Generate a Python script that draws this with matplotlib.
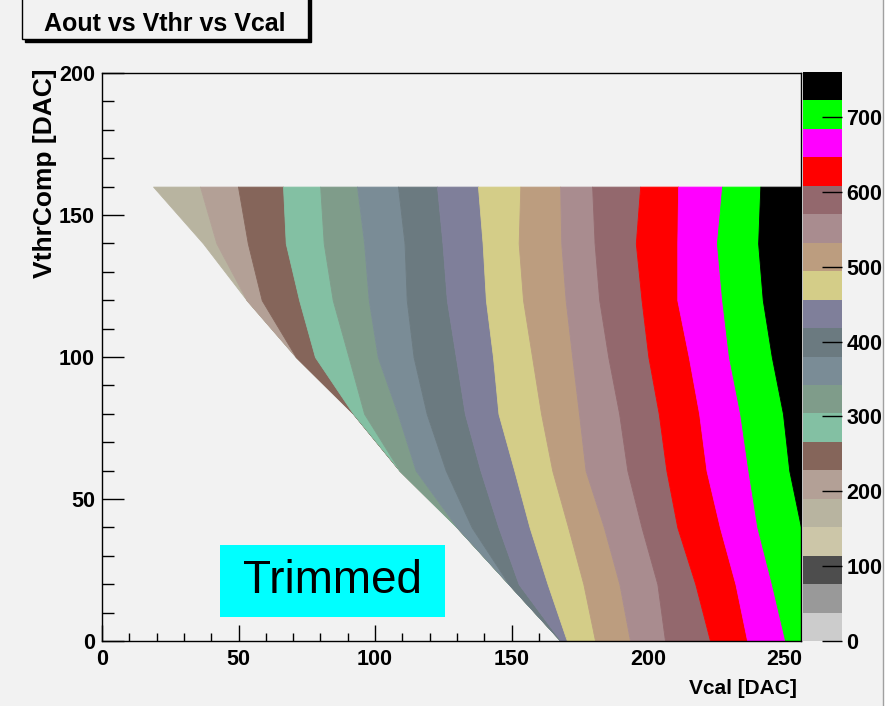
import numpy as np
import matplotlib
matplotlib.use("Agg")
import matplotlib.pyplot as plt
from matplotlib.colors import ListedColormap, BoundaryNorm
from matplotlib.cm import ScalarMappable
from matplotlib.patches import Rectangle
from matplotlib.lines import Line2D
from matplotlib.ticker import MultipleLocator

# ---------------- data ----------------
TITLE = "Aout vs Vthr vs Vcal"
X_LABEL = "Vcal [DAC]"
Y_LABEL = "VthrComp [DAC]"
X_MAX = 256
Y_MAX = 200
Z_MAX = 760
N_LEVELS = 20
CBAR_TICKS = [0, 100, 200, 300, 400, 500, 600, 700]

# 20-colour palette, from lowest to highest Aout level
PALETTE = ["#cccccc", "#999999", "#4d4d4d", "#ccc6a8", "#b8b4a0",
           "#b3a096", "#85655a", "#83c0a3", "#7f9c8a", "#7a8c96",
           "#6b7a80", "#7f7f9a", "#d4cd88", "#bc9d7f", "#a98c8f",
           "#93686d", "#ff0000", "#ff00ff", "#00ff00", "#000000"]

# VthrComp rows at which band boundaries were read
Y_ROWS = [0, 20, 40, 60, 80, 100, 120, 140, 160]
# left edge of the filled region (lowest Vcal with data) at each row
LEFT_EDGE = [168, 149, 130, 109, 92, 71, 53, 37, 18.7]
# Vcal where each Aout level starts at each row (0 = level cut off by the edge,
# 256 = level not reached inside the range)
START_L5 = [0, 0, 0, 0, 0, 0, 53, 41.9, 35.9]
START_L6 = [0, 0, 0, 0, 0, 71, 58.5, 53.4, 49.8]
START_L7 = [0, 0, 0, 0, 91, 78, 72.2, 67.3, 66.3]
START_L8 = [0, 0, 0, 109, 96.0, 90.3, 84.5, 81.2, 79.9]
START_L9 = [0, 0, 129.6, 114.9, 108.3, 101.0, 97.7, 96.0, 93.4]
START_L10 = [0, 148, 135.4, 125.9, 118.9, 114.1, 111.6, 110.8, 108.4]
START_L11 = [168, 152.6, 145.2, 138.6, 132.9, 129.6, 126.3, 124.7, 122.7]
START_L12 = [170.3, 163.2, 156.6, 151.0, 145.2, 143.2, 140.6, 139.4, 137.7]
START_L13 = [180.6, 176.3, 170.7, 164.9, 160.8, 157.5, 154.2, 152.6, 153.2]
START_L14 = [193.4, 189.5, 183.8, 177.1, 174.7, 172.2, 169.8, 168.2, 167.8]
START_L15 = [206.2, 203.4, 197.6, 192.4, 189.4, 185.4, 182.1, 180.4, 179.5]
START_L16 = [222.7, 217.3, 210.7, 206.7, 203.9, 200.1, 197.6, 195.5, 197.1]
START_L17 = [236.3, 232.0, 226.3, 221.4, 218.7, 214.9, 210.7, 210.7, 211.0]
START_L18 = [250.2, 245.3, 240.0, 236.7, 233.7, 229.6, 227.1, 225.2, 227.1]
START_L19 = [256, 256, 256, 251.7, 249.4, 245.3, 242.0, 240.3, 241.1]

BAND_STARTS = {4: LEFT_EDGE, 5: START_L5, 6: START_L6, 7: START_L7,
               8: START_L8, 9: START_L9, 10: START_L10, 11: START_L11,
               12: START_L12, 13: START_L13, 14: START_L14, 15: START_L15,
               16: START_L16, 17: START_L17, 18: START_L18, 19: START_L19,
               20: [X_MAX] * len(Y_ROWS)}

TRIMMED_TEXT = "Trimmed"

# ---------------- figure ----------------
BG = "#f2f2f2"
W, H = 893, 706
plt.rcParams["font.family"] = ["Liberation Sans", "DejaVu Sans"]

fig = plt.figure(figsize=(W / 100, H / 100), dpi=100, facecolor=BG)

def fx(px):
    return px / W

def fy(py):
    return 1 - py / H

ax = fig.add_axes([fx(102), fy(641), (801 - 102) / W, (641 - 73) / H])
ax.set_facecolor(BG)
ax.set_xlim(0, X_MAX)
ax.set_ylim(0, Y_MAX)

edge = np.asarray(LEFT_EDGE, dtype=float)
levels = sorted(BAND_STARTS)
for k in levels[:-1]:
    left = np.maximum(edge, np.asarray(BAND_STARTS[k], dtype=float))
    right = np.maximum(edge, np.asarray(BAND_STARTS[k + 1], dtype=float))
    ax.fill_betweenx(Y_ROWS, left, right, facecolor=PALETTE[k],
                     edgecolor=PALETTE[k], linewidth=0.6, zorder=2)

for s in ax.spines.values():
    s.set_color("black")
    s.set_linewidth(1.0)
    s.set_zorder(5)

TICK_FS = 15.5
ax.xaxis.set_major_locator(MultipleLocator(50))
ax.xaxis.set_minor_locator(MultipleLocator(10))
ax.yaxis.set_major_locator(MultipleLocator(50))
ax.yaxis.set_minor_locator(MultipleLocator(10))
ax.tick_params(axis="x", which="major", direction="in", length=11.5, width=1,
               pad=6, labelsize=TICK_FS)
ax.tick_params(axis="x", which="minor", direction="in", length=6, width=1)
ax.tick_params(axis="y", which="major", direction="in", length=15.5, width=1,
               pad=5, labelsize=TICK_FS)
ax.tick_params(axis="y", which="minor", direction="in", length=8.5, width=1)
for lab in ax.get_xticklabels() + ax.get_yticklabels():
    lab.set_fontweight("bold")

# axis titles
fig.text(fx(45), fy(68), Y_LABEL, rotation=90, ha="center", va="top",
         fontsize=19, fontweight="bold")
fig.text(fx(797), fy(689), X_LABEL, ha="right", va="center",
         fontsize=15, fontweight="bold")

# colour bar
cmap = ListedColormap(PALETTE)
norm = BoundaryNorm(np.linspace(0, Z_MAX, N_LEVELS + 1), N_LEVELS)
cax = fig.add_axes([fx(803), fy(641), 39 / W, (641 - 72) / H])
sm = ScalarMappable(norm=norm, cmap=cmap)
cb = fig.colorbar(sm, cax=cax, ticks=CBAR_TICKS)
cb.outline.set_visible(False)
cax.tick_params(direction="in", length=14.5, width=1, pad=3,
                labelsize=TICK_FS, color="black")
cax.yaxis.set_tick_params(which="minor", length=0)
for lab in cax.get_yticklabels():
    lab.set_fontweight("bold")

# title box with shadow
shadow = Rectangle((fx(25), fy(42)), fx(311) - fx(25), fy(-10) - fy(42),
                   transform=fig.transFigure, facecolor="black",
                   edgecolor="black", zorder=10)
box = Rectangle((fx(22), fy(39)), fx(308) - fx(22), fy(-10) - fy(39),
                transform=fig.transFigure, facecolor=BG, edgecolor="black",
                linewidth=1, zorder=11)
fig.patches.extend([shadow, box])
fig.text(fx(165), fy(24), TITLE, ha="center", va="center", fontsize=18,
         fontweight="bold", zorder=12)

# "Trimmed" label
tbox = Rectangle((fx(220), fy(617)), fx(445) - fx(220), fy(545) - fy(617),
                 transform=fig.transFigure, facecolor="#00ffff",
                 edgecolor="none", zorder=10)
fig.patches.append(tbox)
fig.text(fx(333), fy(581), TRIMMED_TEXT, ha="center", va="center",
         fontsize=33, zorder=12)

# canvas right edge
fig.patches.append(Rectangle((fx(884), 0), 1 - fx(884), 1,
                             transform=fig.transFigure, facecolor="white",
                             edgecolor="none", zorder=0))
fig.lines.append(Line2D([fx(883), fx(883)], [0, 1], transform=fig.transFigure,
                        color="#a0a0a0", linewidth=1))

fig.savefig("out.png", dpi=100, facecolor=BG)
